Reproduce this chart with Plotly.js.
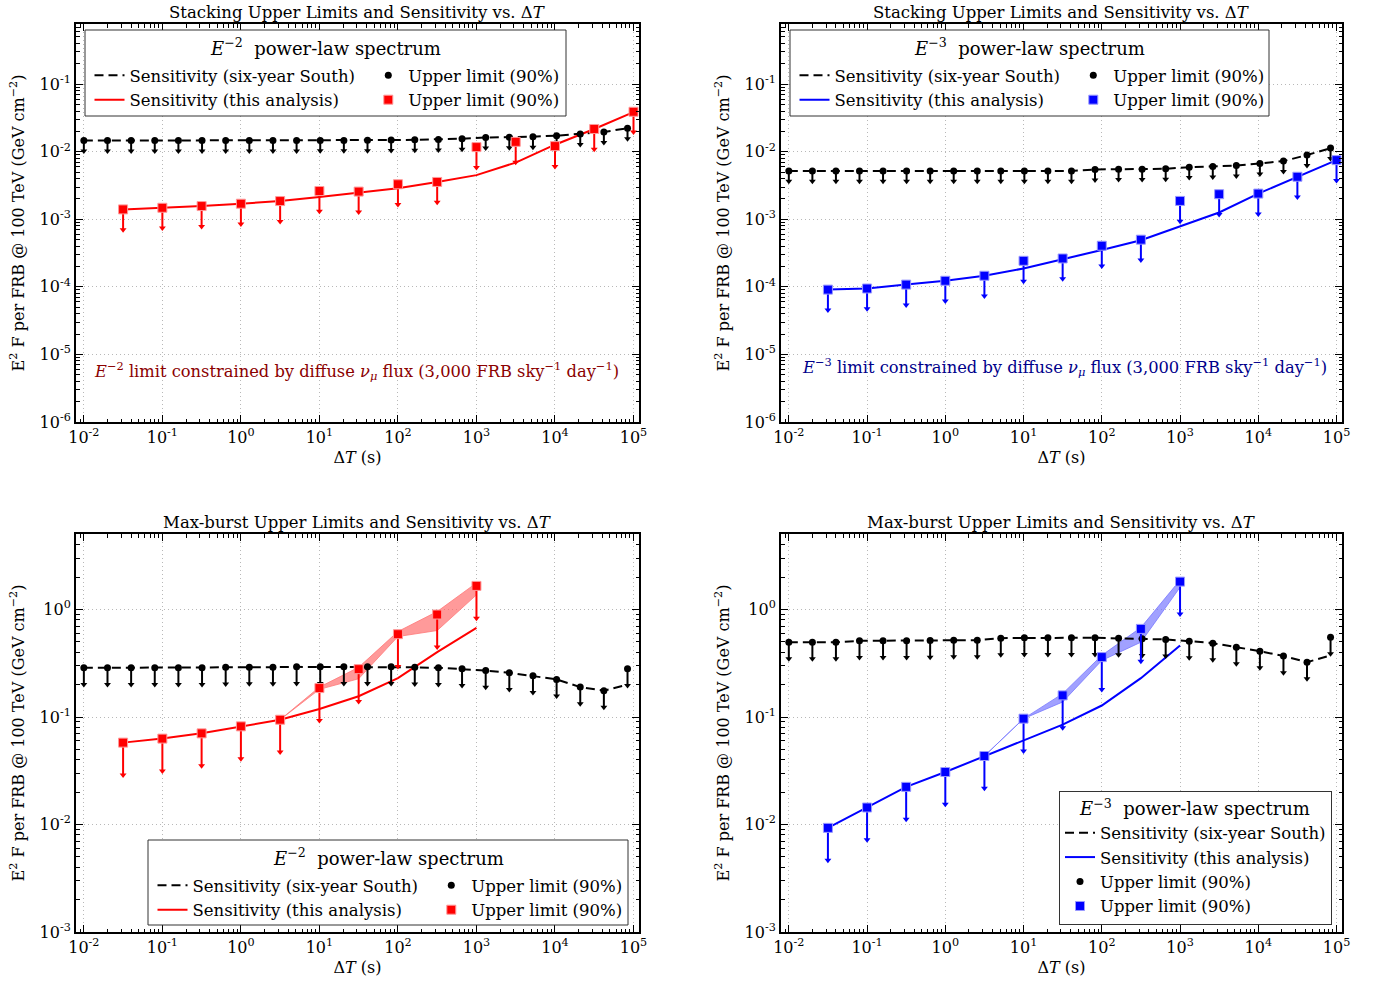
<!DOCTYPE html>
<html>
<head>
<meta charset="utf-8">
<script src="https://cdn.plot.ly/plotly-3.0.1.min.js"></script>
<style>html,body{margin:0;padding:0;background:#fff;}</style>
</head>
<body>
<div id="chart" style="width:1377px;height:982px;"></div>
<script>
// time windows (s)
const dtSixYear = [0.01, 0.02, 0.04, 0.08, 0.16, 0.32, 0.64, 1.28, 2.56, 5.12, 10.24, 20.48,
    40.96, 81.92, 163.84, 327.68, 655.36, 1310.72, 2621.44, 5242.88, 10485.76, 20971.52, 41943.04, 83886.08];
const dtStack = [0.0316, 0.1, 0.316, 1, 3.16, 10, 31.6, 100, 316, 1000, 3160, 10000, 31600, 100000];
const dtMaxBurst = [0.0316, 0.1, 0.316, 1, 3.16, 10, 31.6, 100, 316, 1000];
const dtBand = [3.16, 10, 31.6, 100, 316, 1000];

// stacking, E^-2
const sixSensStackE2 = [0.0146, 0.0146, 0.0146, 0.0146, 0.0146, 0.0146, 0.0146, 0.0146, 0.0146, 0.0146, 0.0147, 0.0147,
    0.0148, 0.0149, 0.0150, 0.0152, 0.0156, 0.0162, 0.0163, 0.0167, 0.0173, 0.0183, 0.0196, 0.0223];
const sixUlStackE2 = [0.0146, 0.0146, 0.0146, 0.0146, 0.0146, 0.0146, 0.0146, 0.0146, 0.0146, 0.0146, 0.0147, 0.0147,
    0.0148, 0.0149, 0.0150, 0.0152, 0.0156, 0.0162, 0.0163, 0.0167, 0.0173, 0.0183, 0.0196, 0.0223];
const sensStackE2 = [1.40e-3, 1.48e-3, 1.57e-3, 1.70e-3, 1.86e-3, 2.14e-3, 2.48e-3, 2.88e-3, 3.57e-3, 4.5e-3, 6.9e-3, 1.27e-2, 2.17e-2, 3.86e-2];
const ulStackE2 = [1.40e-3, 1.48e-3, 1.57e-3, 1.70e-3, 1.86e-3, 2.62e-3, 2.57e-3, 3.30e-3, 3.57e-3, 1.17e-2, 1.40e-2, 1.21e-2, 2.17e-2, 3.9e-2];
const diffuseE2 = 3.75e-6;

// stacking, E^-3
const sixSensStackE3 = [5.2e-3, 5.2e-3, 5.2e-3, 5.2e-3, 5.2e-3, 5.2e-3, 5.2e-3, 5.2e-3, 5.2e-3, 5.2e-3, 5.2e-3, 5.2e-3,
    5.2e-3, 5.46e-3, 5.52e-3, 5.52e-3, 5.58e-3, 5.91e-3, 6.05e-3, 6.26e-3, 6.70e-3, 7.26e-3, 8.93e-3, 1.13e-2];
const sixUlStackE3 = [5.2e-3, 5.2e-3, 5.2e-3, 5.2e-3, 5.2e-3, 5.2e-3, 5.2e-3, 5.2e-3, 5.2e-3, 5.2e-3, 5.2e-3, 5.2e-3,
    5.2e-3, 5.46e-3, 5.52e-3, 5.52e-3, 5.58e-3, 5.91e-3, 6.05e-3, 6.26e-3, 6.70e-3, 7.26e-3, 8.93e-3, 1.13e-2];
const sensStackE3 = [9.1e-5, 9.45e-5, 1.08e-4, 1.23e-4, 1.46e-4, 1.87e-4, 2.57e-4, 3.5e-4, 4.9e-4, 7.8e-4, 1.26e-3, 2.4e-3, 4.26e-3, 7.5e-3];
const ulStackE3 = [9.1e-5, 9.45e-5, 1.08e-4, 1.23e-4, 1.46e-4, 2.43e-4, 2.63e-4, 4.06e-4, 4.99e-4, 1.87e-3, 2.35e-3, 2.4e-3, 4.26e-3, 7.5e-3];
const diffuseE3 = 4.2e-6;

// max-burst, E^-2
const sixSensMaxE2 = [0.287, 0.287, 0.287, 0.287, 0.287, 0.287, 0.290, 0.291, 0.291, 0.293, 0.293, 0.293,
    0.293, 0.293, 0.290, 0.287, 0.281, 0.271, 0.258, 0.242, 0.224, 0.190, 0.176, 0.200];
const sixUlMaxE2 = [0.287, 0.287, 0.287, 0.287, 0.287, 0.287, 0.290, 0.291, 0.291, 0.293, 0.293, 0.293,
    0.293, 0.293, 0.290, 0.287, 0.281, 0.271, 0.258, 0.242, 0.224, 0.190, 0.176, 0.281];
const sensMaxE2 = [0.0578, 0.063, 0.0705, 0.0819, 0.0944, 0.119, 0.156, 0.230, 0.402, 0.676];
const ulMaxE2 = [0.0578, 0.063, 0.0705, 0.0819, 0.0944, 0.186, 0.279, 0.590, 0.899, 1.66];
const bandLoMaxE2 = [0.0944, 0.181, 0.227, 0.561, 0.638, 1.37];
const bandHiMaxE2 = [0.0944, 0.19, 0.29, 0.625, 0.958, 1.77];

// max-burst, E^-3
const sixSensMaxE3 = [0.497, 0.497, 0.497, 0.512, 0.512, 0.512, 0.515, 0.519, 0.519, 0.542, 0.546, 0.546,
    0.546, 0.546, 0.542, 0.534, 0.527, 0.508, 0.487, 0.447, 0.410, 0.369, 0.324, 0.374];
const sixUlMaxE3 = [0.497, 0.497, 0.497, 0.512, 0.512, 0.512, 0.515, 0.519, 0.519, 0.542, 0.546, 0.546,
    0.546, 0.546, 0.542, 0.534, 0.527, 0.508, 0.487, 0.447, 0.410, 0.369, 0.324, 0.553];
const sensMaxE3 = [0.00931, 0.0144, 0.0224, 0.0308, 0.0434, 0.0607, 0.0849, 0.128, 0.230, 0.463];
const ulMaxE3 = [0.00931, 0.0144, 0.0224, 0.0308, 0.0434, 0.0966, 0.159, 0.361, 0.661, 1.82];
const bandLoMaxE3 = [0.0434, 0.0966, 0.138, 0.336, 0.497, 1.61];
const bandHiMaxE3 = [0.0434, 0.0966, 0.165, 0.375, 0.68, 1.88];

// tick labels
const xTickVals = [0.01, 0.1, 1, 10, 100, 1000, 10000, 100000];
const xTickText = ['10<sup>-2</sup>', '10<sup>-1</sup>', '10<sup>0</sup>', '10<sup>1</sup>', '10<sup>2</sup>', '10<sup>3</sup>', '10<sup>4</sup>', '10<sup>5</sup>'];
const yTickValsTop = [1e-6, 1e-5, 1e-4, 1e-3, 1e-2, 1e-1];
const yTickTextTop = ['10<sup>-6</sup>', '10<sup>-5</sup>', '10<sup>-4</sup>', '10<sup>-3</sup>', '10<sup>-2</sup>', '10<sup>-1</sup>'];
const yTickValsBot = [1e-3, 1e-2, 1e-1, 1];
const yTickTextBot = ['10<sup>-3</sup>', '10<sup>-2</sup>', '10<sup>-1</sup>', '10<sup>0</sup>'];

const W = 1377, H = 982;
const FONT = 'DejaVu Serif';
const px = v => v / W;
const py = v => 1 - v / H;

function arrowHeads(xs, ys, frac, color, xa, ya) {
    return {
        type: 'scatter', mode: 'markers', x: xs, y: ys.map(v => v * (1 - frac)),
        xaxis: xa, yaxis: ya, showlegend: false, hoverinfo: 'skip',
        marker: { symbol: 'triangle-down', size: 6, color: color }
    };
}

function upperLimits(xs, ys, frac, color, marker, xa, ya, legend) {
    return {
        type: 'scatter', mode: 'markers', x: xs, y: ys, xaxis: xa, yaxis: ya,
        name: 'Upper limit (90%)', legend: legend,
        marker: marker,
        error_y: {
            type: 'data', symmetric: false, array: ys.map(() => 0), arrayminus: ys.map(v => v * frac),
            color: color, thickness: 2, width: 0
        }
    };
}

function panel(p) {
    const out = [];
    if (p.bandLo) {
        out.push({ type: 'scatter', mode: 'lines', x: dtBand, y: p.bandLo, xaxis: p.xa, yaxis: p.ya,
            showlegend: false, line: { color: p.bandLine, width: 1 } });
        out.push({ type: 'scatter', mode: 'lines', x: dtBand, y: p.bandHi, xaxis: p.xa, yaxis: p.ya,
            showlegend: false, fill: 'tonexty', fillcolor: p.bandFill, line: { color: p.bandLine, width: 1 } });
    }
    out.push({ type: 'scatter', mode: 'lines', x: dtSixYear, y: p.sixSens, xaxis: p.xa, yaxis: p.ya,
        name: 'Sensitivity (six-year South)', legend: p.legA,
        line: { color: '#000', width: 2, dash: '9px,5px' } });
    out.push({ type: 'scatter', mode: 'lines', x: p.dt, y: p.sens, xaxis: p.xa, yaxis: p.ya,
        name: 'Sensitivity (this analysis)', legend: p.legA,
        line: { color: p.color, width: 2 } });
    out.push(upperLimits(dtSixYear, p.sixUl, 0.3, '#000',
        { symbol: 'circle', size: 7, color: '#000' }, p.xa, p.ya, p.legB));
    out.push(arrowHeads(dtSixYear, p.sixUl, 0.3, '#000', p.xa, p.ya));
    out.push(upperLimits(p.dt, p.ul, 0.5, p.color,
        { symbol: 'square', size: 9, color: p.color, line: { color: p.edge, width: 1 } }, p.xa, p.ya, p.legB));
    out.push(arrowHeads(p.dt, p.ul, 0.5, p.color, p.xa, p.ya));
    return out;
}

const RED = '#ff0000', BLUE = '#0000ff';
const data = [].concat(
    panel({ xa: 'x', ya: 'y', dt: dtStack, sixSens: sixSensStackE2, sixUl: sixUlStackE2, sens: sensStackE2, ul: ulStackE2,
        color: RED, edge: '#ff9a9a', legA: 'legend', legB: 'legend2' }),
    panel({ xa: 'x2', ya: 'y2', dt: dtStack, sixSens: sixSensStackE3, sixUl: sixUlStackE3, sens: sensStackE3, ul: ulStackE3,
        color: BLUE, edge: '#9a9aff', legA: 'legend3', legB: 'legend4' }),
    panel({ xa: 'x3', ya: 'y3', dt: dtMaxBurst, sixSens: sixSensMaxE2, sixUl: sixUlMaxE2, sens: sensMaxE2, ul: ulMaxE2,
        color: RED, edge: '#ff9a9a', legA: 'legend5', legB: 'legend6',
        bandLo: bandLoMaxE2, bandHi: bandHiMaxE2, bandFill: 'rgba(255,100,100,0.65)', bandLine: 'rgba(255,120,120,0.8)' }),
    panel({ xa: 'x4', ya: 'y4', dt: dtMaxBurst, sixSens: sixSensMaxE3, sixUl: sixUlMaxE3, sens: sensMaxE3, ul: ulMaxE3,
        color: BLUE, edge: '#9a9aff', legA: 'legend7', legB: 'legend7',
        bandLo: bandLoMaxE3, bandHi: bandHiMaxE3, bandFill: 'rgba(110,110,255,0.65)', bandLine: 'rgba(120,120,255,0.8)' })
);

const axisBase = {
    type: 'log', showline: true, linecolor: '#000', linewidth: 2, mirror: 'ticks',
    ticks: 'inside', ticklen: 7, tickwidth: 1, tickcolor: '#000',
    showgrid: true, gridcolor: '#b8b8b8', griddash: '1px,3px', gridwidth: 1, zeroline: false,
    tickmode: 'array',
    minor: { ticks: 'inside', ticklen: 3.5, tickwidth: 1, tickcolor: '#000', dtick: 'D1', showgrid: false },
    tickfont: { family: FONT, size: 16, color: '#000' }
};
const xTitle = { text: 'Δ<i>T</i> (s)', standoff: 6, font: { family: FONT, size: 16, color: '#000' } };
const yTitle = { text: 'E<sup>2</sup> F per FRB @ 100 TeV (GeV cm<sup>−2</sup>)', standoff: 11, font: { family: FONT, size: 16, color: '#000' } };

function xAxis(domain, anchor) {
    return Object.assign({}, axisBase, { domain: domain, anchor: anchor, range: [-2.1, 5.07],
        tickvals: xTickVals, ticktext: xTickText, title: xTitle });
}
function yAxis(domain, anchor, top) {
    return Object.assign({}, axisBase, { domain: domain, anchor: anchor,
        range: top ? [-6, -0.11] : [-3, 0.703],
        tickvals: top ? yTickValsTop : yTickValsBot, ticktext: top ? yTickTextTop : yTickTextBot, title: yTitle });
}

const colL = [px(76), px(639)], colR = [px(781), px(1342)];
const rowT = [py(422), py(24)], rowB = [py(932), py(534)];

// manual two-column legend boxes: [left, top, right, bottom]
const boxTL = [85, 30, 566, 116], boxTR = [790, 30, 1269, 116], boxBL = [148, 840, 628, 925];

function colLegend(xPx, yPx) {
    return { x: px(xPx), y: py(yPx), xanchor: 'left', yanchor: 'top', orientation: 'v', traceorder: 'normal',
        bgcolor: 'rgba(0,0,0,0)', borderwidth: 0, tracegroupgap: 0,
        font: { family: FONT, size: 16.5, color: '#000' } };
}
function boxShape(b) {
    return { type: 'rect', xref: 'paper', yref: 'paper', x0: px(b[0]), x1: px(b[2]), y0: py(b[3]), y1: py(b[1]),
        fillcolor: '#fff', line: { color: '#333', width: 1 }, layer: 'above' };
}
function boxTitle(b, text) {
    return { xref: 'paper', yref: 'paper', x: px((b[0] + b[2]) / 2), y: py(b[1] + 17), xanchor: 'center', yanchor: 'middle',
        showarrow: false, text: text, font: { family: FONT, size: 18, color: '#000' } };
}
function panelTitle(col, row, text) {
    return { xref: 'paper', yref: 'paper', x: (col[0] + col[1]) / 2, y: row[1], xanchor: 'center', yanchor: 'bottom',
        showarrow: false, text: text, font: { family: FONT, size: 16.5, color: '#000' } };
}

const stackTitle = 'Stacking Upper Limits and Sensitivity vs. Δ<i>T</i>';
const maxTitle = 'Max-burst Upper Limits and Sensitivity vs. Δ<i>T</i>';

const layout = {
    width: W, height: H, autosize: false,
    margin: { l: 0, r: 0, t: 0, b: 0 },
    paper_bgcolor: '#fff', plot_bgcolor: '#fff',
    font: { family: FONT, color: '#000' },
    hovermode: false,
    xaxis: xAxis(colL, 'y'), yaxis: yAxis(rowT, 'x', true),
    xaxis2: xAxis(colR, 'y2'), yaxis2: yAxis(rowT, 'x2', true),
    xaxis3: xAxis(colL, 'y3'), yaxis3: yAxis(rowB, 'x3', false),
    xaxis4: xAxis(colR, 'y4'), yaxis4: yAxis(rowB, 'x4', false),
    legend: colLegend(boxTL[0] + 4.5, boxTL[1] + 28),
    legend2: colLegend(boxTL[0] + 283.3, boxTL[1] + 28),
    legend3: colLegend(boxTR[0] + 4.5, boxTR[1] + 28),
    legend4: colLegend(boxTR[0] + 283.3, boxTR[1] + 28),
    legend5: colLegend(boxBL[0] + 4.5, boxBL[1] + 28),
    legend6: colLegend(boxBL[0] + 283.3, boxBL[1] + 28),
    legend7: {
        x: px(1059), y: py(791), xanchor: 'left', yanchor: 'top', orientation: 'v', traceorder: 'normal',
        bgcolor: '#fff', bordercolor: '#333', borderwidth: 1, tracegroupgap: 0,
        font: { family: FONT, size: 16.5, color: '#000' },
        title: { text: '<i>E</i><sup>−3</sup>  power-law spectrum', side: 'top center', font: { family: FONT, size: 18, color: '#000' } }
    },
    shapes: [
        { type: 'line', xref: 'x domain', x0: 0, x1: 1, yref: 'y', y0: Math.log10(diffuseE2), y1: Math.log10(diffuseE2),
            line: { color: '#8b0000', width: 3 } },
        { type: 'line', xref: 'x2 domain', x0: 0, x1: 1, yref: 'y2', y0: Math.log10(diffuseE3), y1: Math.log10(diffuseE3),
            line: { color: '#00008b', width: 3 } },
        boxShape(boxTL), boxShape(boxTR), boxShape(boxBL)
    ],
    annotations: [
        panelTitle(colL, rowT, stackTitle),
        panelTitle(colR, rowT, stackTitle),
        panelTitle(colL, rowB, maxTitle),
        panelTitle(colR, rowB, maxTitle),
        boxTitle(boxTL, '<i>E</i><sup>−2</sup>  power-law spectrum'),
        boxTitle(boxTR, '<i>E</i><sup>−3</sup>  power-law spectrum'),
        boxTitle(boxBL, '<i>E</i><sup>−2</sup>  power-law spectrum'),
        { xref: 'x', yref: 'y', x: -1.9, y: Math.log10(diffuseE2), xanchor: 'left', yanchor: 'bottom', yshift: -2,
            showarrow: false, font: { family: FONT, size: 16.3, color: '#8b0000' },
            text: '<i>E</i><sup>−2</sup> limit constrained by diffuse <i>ν<sub>μ</sub></i> flux (3,000 FRB sky<sup>−1</sup> day<sup>−1</sup>)' },
        { xref: 'x2', yref: 'y2', x: -1.856, y: Math.log10(diffuseE3), xanchor: 'left', yanchor: 'bottom', yshift: -1,
            showarrow: false, font: { family: FONT, size: 16.3, color: '#00008b' },
            text: '<i>E</i><sup>−3</sup> limit constrained by diffuse <i>ν<sub>μ</sub></i> flux (3,000 FRB sky<sup>−1</sup> day<sup>−1</sup>)' }
    ]
};

Plotly.newPlot('chart', data, layout, { displayModeBar: false, staticPlot: true });
</script>
</body>
</html>
